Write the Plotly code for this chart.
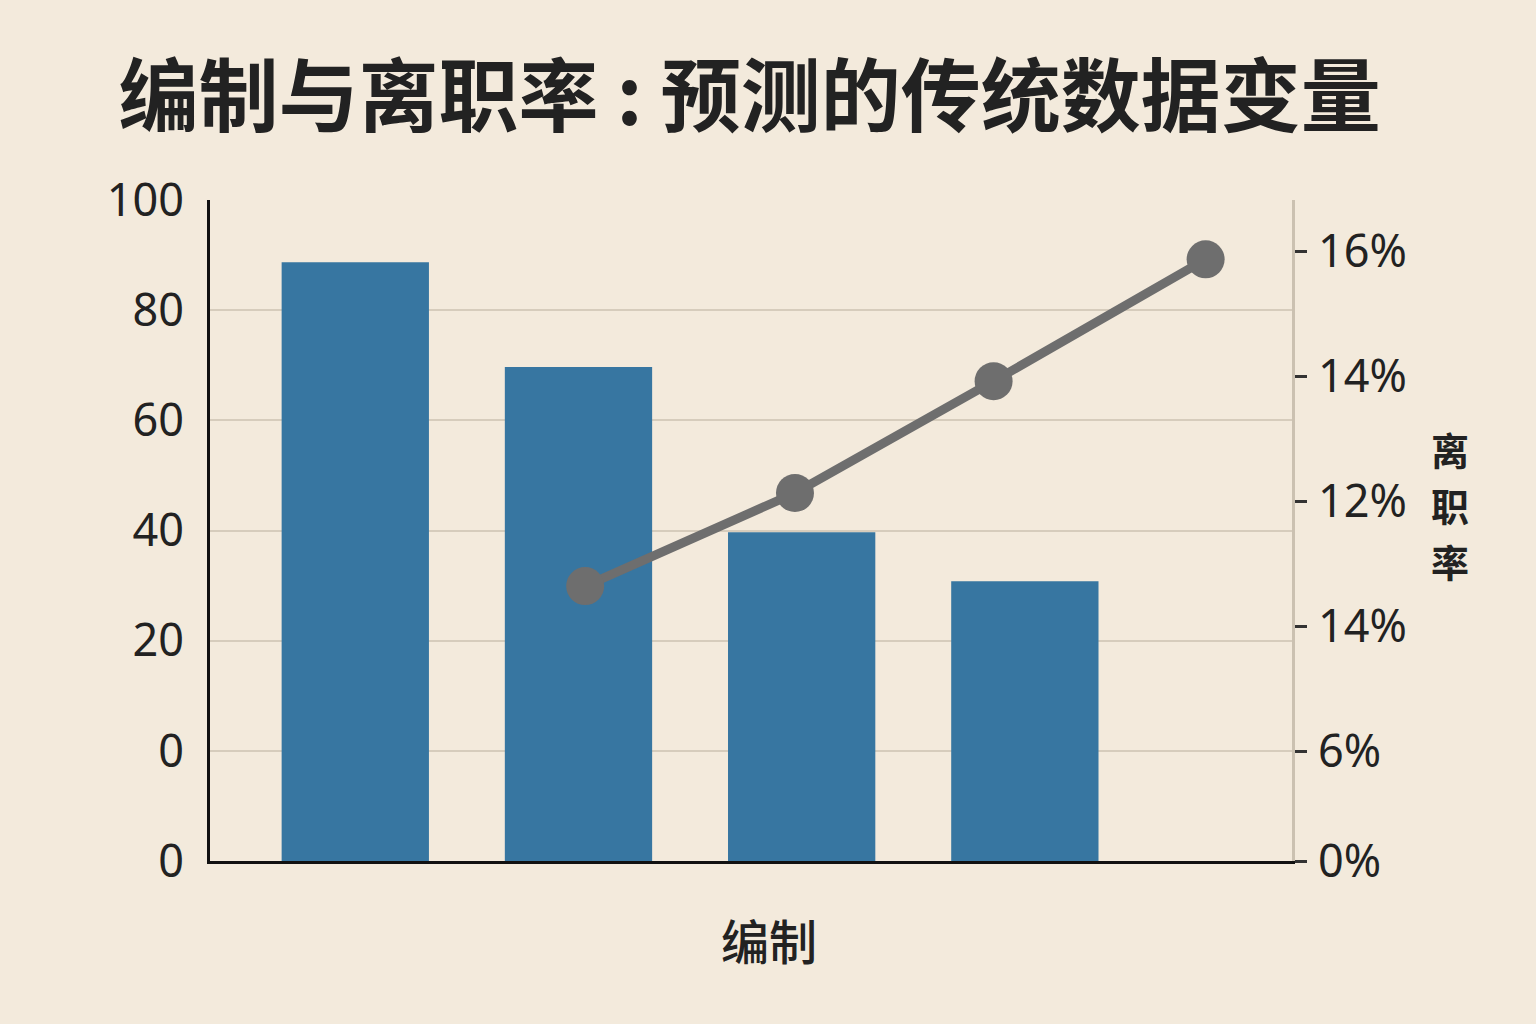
import plotly.graph_objects as go

# 数据
bar_x = [1, 2, 3, 4]
bar_heights = [108.7, 89.7, 59.7, 50.8]  # 左轴单位（0~120 刻度位置）
left_tickvals = [0, 20, 40, 60, 80, 100, 120]
left_ticktext = ["0", "0", "20", "40", "60", "80", "100"]

line_x = [2.03, 2.97, 3.86, 4.81]
line_rate = [10.64, 12.13, 13.92, 15.87]  # 右轴单位（%）
right_tickvals = [6.24, 8, 10, 12, 14, 16]
right_ticktext = ["0%", "6%", "14%", "12%", "14%", "16%"]

title_text = "编制与离职率 : 预测的传统数据变量"
x_title = "编制"
y2_title = "离职率"

BG = "#F3EADC"
GRID = "#D6CCBC"
BAR = "#3776A1"
LINE = "#6E6E6E"
TXT = "#222222"
CJK = "Noto Sans CJK SC"
LAT = "Noto Sans, Noto Sans CJK SC"

fig = go.Figure()

fig.add_trace(go.Bar(
    x=bar_x, y=bar_heights, width=0.66,
    marker=dict(color=BAR, line=dict(width=0)),
    yaxis="y", showlegend=False,
))

fig.add_trace(go.Scatter(
    x=line_x, y=line_rate, mode="lines+markers",
    line=dict(color=LINE, width=9),
    marker=dict(size=38, color=LINE, line=dict(width=0)),
    yaxis="y2", showlegend=False, cliponaxis=False,
))

fig.update_layout(
    width=1536, height=1024,
    paper_bgcolor=BG, plot_bgcolor=BG,
    margin=dict(l=210, r=244, t=200, b=163),
    title=dict(
        text=title_text, x=0.488, xref="container", xanchor="center",
        y=0.905, yref="container", yanchor="middle",
        font=dict(family=CJK, size=80, color=TXT, weight="bold"),
    ),
    xaxis=dict(
        range=[0.349, 5.197], showgrid=False, zeroline=False,
        showticklabels=False, ticks="",
        showline=True, linecolor="#111111", linewidth=3,
    ),
    yaxis=dict(
        range=[0, 120], tickvals=left_tickvals, ticktext=left_ticktext,
        showgrid=True, gridcolor=GRID, gridwidth=2, zeroline=False,
        showline=True, linecolor="#111111", linewidth=3, ticks="",
        ticklabelstandoff=14,
        tickfont=dict(family=LAT, size=45, color=TXT),
    ),
    yaxis2=dict(
        range=[6.24, 16.82], overlaying="y", side="right",
        tickvals=right_tickvals, ticktext=right_ticktext,
        showgrid=False, zeroline=False,
        showline=True, linecolor="#CBC1B1", linewidth=3,
        ticks="outside", ticklen=12, tickwidth=2.5, tickcolor="#333333",
        ticklabelstandoff=2,
        tickfont=dict(family=LAT, size=45, color=TXT),
    ),
    annotations=[
        dict(text=x_title, x=0.517, y=-0.118, xref="paper", yref="paper",
             xanchor="center", yanchor="middle", showarrow=False,
             font=dict(family=CJK, size=48, color=TXT, weight=500)),
    ],
)

# 右侧竖排标题（逐字排列）
for i, ch in enumerate(y2_title):
    fig.add_annotation(
        text=ch, x=1.146, y=0.6233 - i * 0.0847, xref="paper", yref="paper",
        xanchor="center", yanchor="middle", showarrow=False,
        font=dict(family=CJK, size=38, color=TXT, weight="bold"),
    )

fig.write_html("out.html", config={"displayModeBar": False},
               post_script="document.body.style.margin='0';")
